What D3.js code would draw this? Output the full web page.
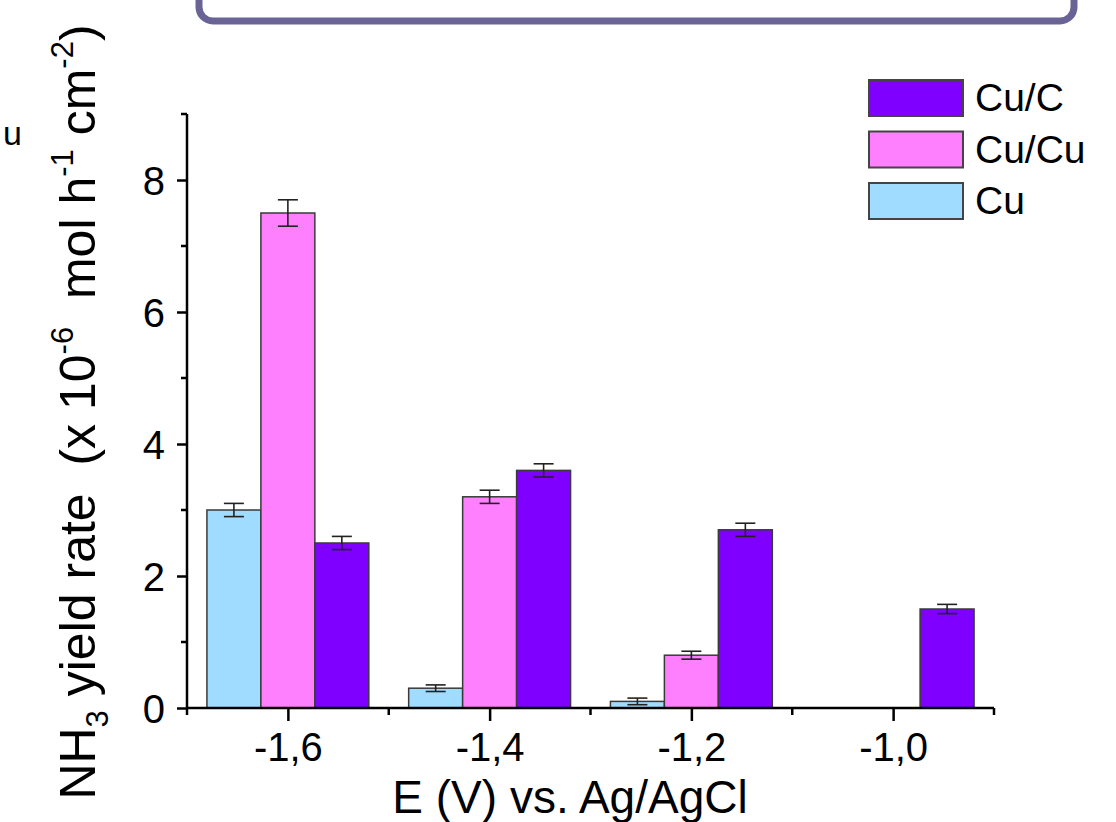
<!DOCTYPE html>
<html>
<head>
<meta charset="utf-8">
<script src="https://cdn.jsdelivr.net/npm/d3@7"></script>
<style>
  body { margin: 0; background: #fff; }
  svg { display: block; font-family: "Liberation Sans", Arial, sans-serif; }
</style>
</head>
<body>
<svg id="chart" width="1116" height="822"></svg>
<script>
// potentials (V vs Ag/AgCl) and the three catalysts
var potentials = [-1.6, -1.4, -1.2, -1.0];
var potentialLabels = ["-1,6", "-1,4", "-1,2", "-1,0"];
var seriesNames = ["Cu", "Cu/Cu", "Cu/C"];
var legendOrder = ["Cu/C", "Cu/Cu", "Cu"];

// NH3 yield rate, x 10^-6 mol h-1 cm-2 (null = not measured)
var cuValues = [3.0, 0.3, 0.1, null];
var cuErrors = [0.1, 0.05, 0.05, null];
var cuCuValues = [7.5, 3.2, 0.8, null];
var cuCuErrors = [0.2, 0.1, 0.06, null];
var cuCValues = [2.5, 3.6, 2.7, 1.5];
var cuCErrors = [0.1, 0.1, 0.1, 0.07];

var yTicks = [0, 2, 4, 6, 8];
var yMinorTicks = [1, 3, 5, 7, 9];
var xMinorTicks = [-1.7, -1.5, -1.3, -1.1, -0.9];

var colors = {"Cu": "#a0dcff", "Cu/Cu": "#ff80ff", "Cu/C": "#8000ff"};

var svg = d3.select("#chart");

var x = d3.scaleLinear()
    .domain([-1.7, -0.9])
    .range([187, 994]);

var y = d3.scaleLinear()
    .domain([0, 9])
    .range([708, 114]);

var barW = 0.0535; // bar width in volts
var values = {"Cu": cuValues, "Cu/Cu": cuCuValues, "Cu/C": cuCValues};
var errors = {"Cu": cuErrors, "Cu/Cu": cuCuErrors, "Cu/C": cuCErrors};

var bars = [];
seriesNames.forEach(function (s, j) {
    potentials.forEach(function (p, i) {
        if (values[s][i] === null) return;
        bars.push({series: s, x: p + (j - 1) * barW, v: values[s][i], e: errors[s][i]});
    });
});

// bars
svg.append("g").selectAll("rect")
    .data(bars)
    .enter().append("rect")
    .attr("x", function (d) { return x(d.x - barW / 2); })
    .attr("width", function (d) { return x(d.x + barW / 2) - x(d.x - barW / 2); })
    .attr("y", function (d) { return y(d.v); })
    .attr("height", function (d) { return y(0) - y(d.v); })
    .attr("fill", function (d) { return colors[d.series]; })
    .attr("stroke", "#3a3a3a")
    .attr("stroke-width", 1.5);

// error bars
var eb = svg.append("g").attr("stroke", "#222").attr("stroke-width", 1.6);
bars.forEach(function (d) {
    var cx = x(d.x);
    eb.append("line").attr("x1", cx).attr("x2", cx).attr("y1", y(d.v + d.e)).attr("y2", y(d.v - d.e));
    eb.append("line").attr("x1", cx - 10).attr("x2", cx + 10).attr("y1", y(d.v + d.e)).attr("y2", y(d.v + d.e));
    eb.append("line").attr("x1", cx - 10).attr("x2", cx + 10).attr("y1", y(d.v - d.e)).attr("y2", y(d.v - d.e));
});

// x axis
var gx = svg.append("g")
    .attr("transform", "translate(0," + y(0) + ")");
gx.call(d3.axisBottom(x)
        .tickValues(potentials)
        .tickSize(13)
        .tickFormat(function (d, i) { return potentialLabels[i]; }));
gx.selectAll(".minor")
    .data(xMinorTicks)
    .enter().append("line")
    .attr("class", "minor")
    .attr("x1", function (d) { return x(d); })
    .attr("x2", function (d) { return x(d); })
    .attr("y1", 0)
    .attr("y2", 7);

// y axis
var gy = svg.append("g")
    .attr("transform", "translate(" + x(-1.7) + ",0)");
gy.call(d3.axisLeft(y)
        .tickValues(yTicks)
        .tickSize(10)
        .tickPadding(12)
        .tickFormat(d3.format("d")));
gy.selectAll(".minor")
    .data(yMinorTicks)
    .enter().append("line")
    .attr("class", "minor")
    .attr("x1", -6)
    .attr("x2", 0)
    .attr("y1", function (d) { return y(d); })
    .attr("y2", function (d) { return y(d); });

[gx, gy].forEach(function (g) {
    g.select(".domain").remove();
    g.selectAll("line").attr("stroke", "#000").attr("stroke-width", 2.5);
    g.selectAll("text").attr("fill", "#000").style("font-size", "40px");
});
gx.selectAll(".tick text").attr("y", 53).attr("dy", 0);
gy.selectAll(".tick text").attr("dy", "0.36em");

// axis lines
svg.append("line")
    .attr("x1", x(-1.7)).attr("x2", x(-0.9))
    .attr("y1", y(0)).attr("y2", y(0))
    .attr("stroke", "#000").attr("stroke-width", 2.5);
svg.append("line")
    .attr("x1", x(-1.7)).attr("x2", x(-1.7))
    .attr("y1", y(0) + 1).attr("y2", y(9))
    .attr("stroke", "#000").attr("stroke-width", 2.5);

// axis titles
svg.append("text")
    .attr("x", 570)
    .attr("y", 813)
    .attr("text-anchor", "middle")
    .style("font-size", "46px")
    .text("E (V) vs. Ag/AgCl");

var yt = svg.append("text")
    .attr("transform", "translate(95,412) rotate(-90)")
    .attr("text-anchor", "middle")
    .style("font-size", "50px")
    .style("white-space", "pre");
yt.append("tspan").text("NH");
yt.append("tspan").attr("dy", 13).style("font-size", "31px").text("3");
yt.append("tspan").attr("dy", -13).text(" yield rate  (x 10");
yt.append("tspan").attr("dy", -22).style("font-size", "31px").text("-6");
yt.append("tspan").attr("dy", 22).text("  mol h");
yt.append("tspan").attr("dy", -22).style("font-size", "31px").text("-1");
yt.append("tspan").attr("dy", 22).text(" cm");
yt.append("tspan").attr("dy", -22).style("font-size", "31px").text("-2");
yt.append("tspan").attr("dy", 22).text(")");

// legend
var leg = svg.append("g").attr("transform", "translate(869,80)");
leg.selectAll("rect")
    .data(legendOrder)
    .enter().append("rect")
    .attr("x", 0)
    .attr("y", function (d, i) { return i * 51.5; })
    .attr("width", 94)
    .attr("height", 36)
    .attr("fill", function (d) { return colors[d]; })
    .attr("stroke", "#444")
    .attr("stroke-width", 2);
leg.selectAll("text")
    .data(legendOrder)
    .enter().append("text")
    .attr("x", 106)
    .attr("y", function (d, i) { return i * 51.5 + 31; })
    .style("font-size", "39px")
    .text(function (d) { return d; });

// pieces of the neighbouring panel that are cut off by the frame
svg.append("rect")
    .attr("x", 199)
    .attr("y", -50)
    .attr("width", 875)
    .attr("height", 71)
    .attr("rx", 14)
    .attr("fill", "none")
    .attr("stroke", "#6a6496")
    .attr("stroke-width", 7);
svg.append("text")
    .attr("x", 3)
    .attr("y", 145)
    .style("font-size", "34px")
    .text("u");
</script>
</body>
</html>
